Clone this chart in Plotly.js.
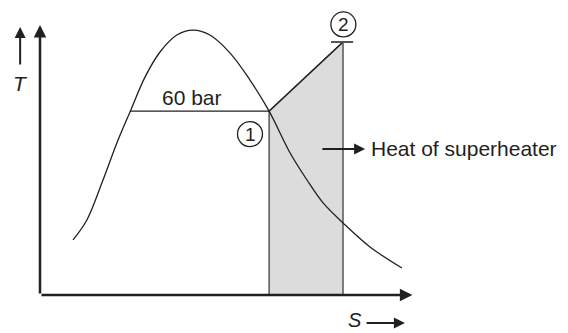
<!DOCTYPE html>
<html>
<head>
<meta charset="utf-8">
<script src="https://cdn.plot.ly/plotly-3.0.1.min.js"></script>
<style>html,body{margin:0;padding:0;background:#fff;}#chart{width:568px;height:333px;}</style>
</head>
<body>
<div id="chart"></div>
<script>
// Saturation dome (entropy s, temperature T), arbitrary units
var domeS = [0.88, 1.25, 1.68, 2.05, 2.40, 2.80, 3.20, 3.65, 4.08, 4.53, 5.07, 5.60, 6.11, 6.67, 7.12, 7.55, 8.08, 8.80, 9.65];
var domeT = [2.04, 2.78, 4.26, 5.63, 6.78, 8.07, 9.00, 9.63, 9.81, 9.63, 8.96, 7.96, 6.81, 5.26, 4.26, 3.41, 2.67, 1.78, 1.00];
// 60 bar evaporation line: liquid side to state 1
var evapS = [2.40, 6.11];
var evapT = [6.81, 6.81];
// State points 1 and 2 (superheating)
var stateNames = ["1", "2"];
var stateS = [6.11, 8.08];
var stateT = [6.81, 9.37];
var pressureLabel = "60 bar";
var areaLabel = "Heat of superheater";

var ink = "#231f20";
var fontFam = "'Liberation Sans', Arial, sans-serif";

var traces = [
  { // superheat area under 1-2
    x: [stateS[0], stateS[0], stateS[1], stateS[1], stateS[0]],
    y: [0, stateT[0], stateT[1], 0, 0],
    mode: "lines", fill: "toself", fillcolor: "#dcdcdc",
    line: {color: "#555555", width: 1.5}, hoverinfo: "skip"
  },
  { // line 1-2
    x: stateS, y: stateT, mode: "lines",
    line: {color: ink, width: 1.3}, hoverinfo: "skip"
  },
  { // dome
    x: domeS, y: domeT, mode: "lines",
    line: {color: ink, width: 1.3, shape: "spline", smoothing: 1}, hoverinfo: "skip"
  },
  { // 60 bar line
    x: evapS, y: evapT, mode: "lines",
    line: {color: ink, width: 1.3}, hoverinfo: "skip"
  }
];

function arrow(x0, y0, x1, y1, w, size) {
  return {x: x1, y: y1, ax: x0, ay: y0, xref: "x", yref: "y", axref: "x", ayref: "y",
    text: "", showarrow: true, arrowhead: 2, arrowsize: size, arrowwidth: w, arrowcolor: ink, standoff: 0};
}
function label(x, y, t, size, anchor, italic, yanchor) {
  return {x: x, y: y, xref: "x", yref: "y", text: t, showarrow: false,
    xanchor: anchor || "center", yanchor: yanchor || "middle",
    font: {family: fontFam, size: size, color: ink, style: italic ? "italic" : "normal"}};
}

var annotations = [
  arrow(0, 0, 0, 10, 2.5, 1.0),      // T axis
  arrow(0, 0, 9.93, 0, 2.5, 1.0),    // s axis
  arrow(-0.53, 8.48, -0.53, 9.93, 2, 1.1),
  arrow(8.67, -1.04, 9.73, -1.04, 2, 1.1),
  arrow(7.49, 5.41, 8.67, 5.41, 2, 1.1),
  label(-0.51, 7.85, "T", 21, "center", true),
  label(8.4, -1.40, "S", 20, "center", true, "bottom"),
  label(4.05, 7.3, pressureLabel, 21),
  label(8.77, 5.41, areaLabel, 21, "left"),
  label(5.6, 5.96, stateNames[0], 19),
  label(8.09, 10.02, stateNames[1], 19)
];

function circ(xc, yc) {
  return {type: "circle", xref: "x", yref: "y", xsizemode: "pixel", ysizemode: "pixel",
    xanchor: xc, yanchor: yc, x0: -12.5, x1: 12.5, y0: -12.5, y1: 12.5,
    line: {color: ink, width: 1.3}, fillcolor: "rgba(0,0,0,0)"};
}

var shapes = [
  circ(5.6, 5.96),
  circ(8.09, 10.02),
  {type: "line", xref: "x", yref: "y", x0: 7.76, x1: 8.35, y0: stateT[1], y1: stateT[1],
   line: {color: "#555555", width: 2}}
];

var layout = {
  width: 568, height: 333,
  margin: {l: 0, r: 0, t: 0, b: 0},
  paper_bgcolor: "#ffffff", plot_bgcolor: "#ffffff",
  showlegend: false,
  xaxis: {range: [-1.0667, 14.08], visible: false, fixedrange: true},
  yaxis: {range: [-1.407, 10.926], visible: false, fixedrange: true},
  annotations: annotations,
  shapes: shapes
};

Plotly.newPlot("chart", traces, layout, {staticPlot: true});
</script>
</body>
</html>
